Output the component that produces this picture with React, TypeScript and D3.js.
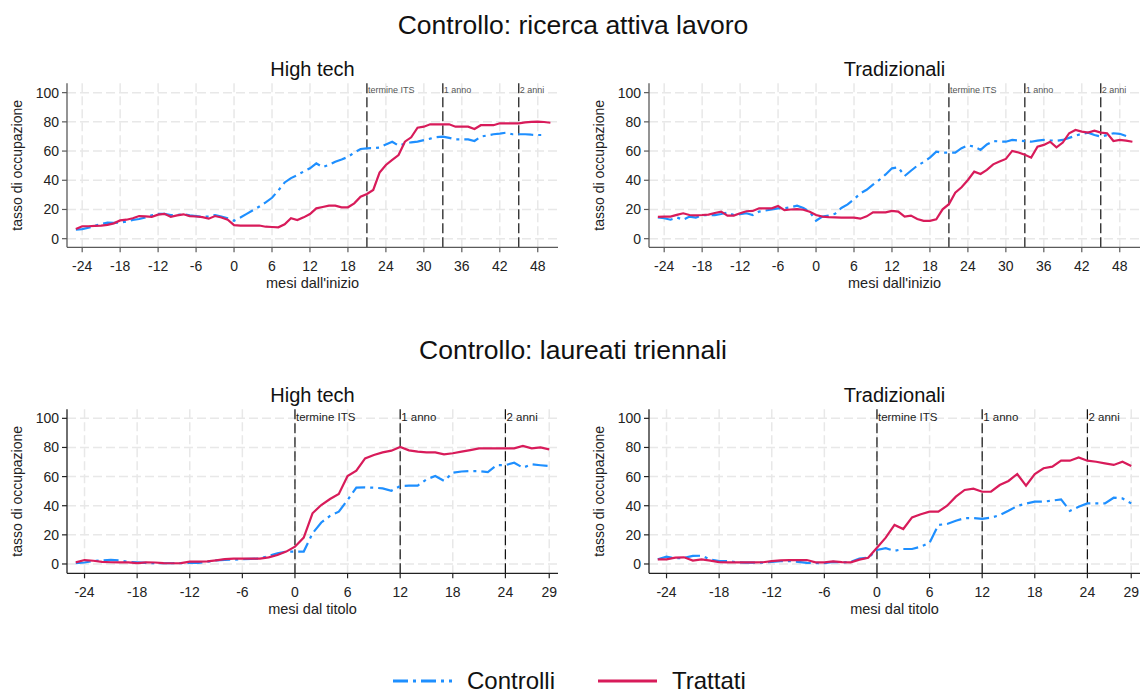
import React from 'react'
import * as d3 from 'd3'

// months since start (top row) and since graduation (bottom row)
const monthsTop = d3.range(-25, 51)
const monthsBottom = d3.range(-25, 30)

// Controllo: ricerca attiva lavoro - High tech
const rcHighTrattati = [
  6.6, 8.5, 8.5, 8.8, 8.9, 9.5, 10.5, 12.5, 13, 14, 15.5, 15.3, 15, 16.5, 17, 15, 16, 16.7, 15.5, 15.2, 14.8, 13.7, 15.5, 14.5, 13, 9.3,
  9, 9, 9, 9, 8.2, 8, 7.8, 9.8, 14, 12.8,
  14.6, 16.9, 20.8, 21.7, 22.6, 22.6, 21.5, 21.5, 24.2, 28.8,
  30.6, 33.4, 45.2, 50.5, 53.9, 57.3, 66.4, 69.4, 76, 76.7,
  78.3, 78.3, 78.3, 78.3, 76.7, 76.7, 76.7, 75.1, 77.7, 77.7,
  77.7, 79, 79, 79, 79, 79.7, 80, 80.1, 79.9, 79.4,
]
const rcHighControlli = [
  6.2, 6.6, 7.5, 8.8, 10, 11, 10.8, 11, 11.8, 12.8, 13.5, 14.5, 16, 17, 17, 16.2, 16.3, 16.7, 16, 15.5, 15, 15.2, 16.2, 15.2, 13.9, 12.3,
  14.5, 17, 19.5, 22, 24.9, 28, 33, 38.5, 41.5, 43.6,
  46, 48.2, 51.6, 49, 50.5, 52.7, 54.2, 56, 59, 61.4,
  61.9, 62, 62.4, 64.5, 66.4, 63.7, 65, 66, 66.5, 67.5,
  68.5, 69.5, 69.9, 69, 68, 68, 68, 66.9, 69.9, 70.7,
  71.5, 72, 72.6, 71.5, 71.5, 71.5, 71.2, 71, 71,
]

// Controllo: ricerca attiva lavoro - Tradizionali
const rcTradTrattati = [
  15, 15.1, 15.1, 16.3, 17.4, 16.2, 16, 16.2, 16.5, 17.6, 18.5, 15.8, 15.8, 17.4, 18.8, 19, 20.8, 20.8, 20.8, 22.4, 19.6, 20, 20.3, 19.8, 18.5, 16.2,
  15.1, 14.8, 14.6, 14.4, 14.4, 14.4, 13.7, 15.3, 18, 18,
  18, 19, 18.5, 15.1, 15.8, 13.5, 12.2, 12.2, 13.3, 20.1,
  23.6, 31.5, 35.2, 40.2, 45.9, 44.3, 47.1, 50.9, 52.8, 54.6,
  60.1, 59, 57.5, 55.5, 63, 64.2, 66.4, 62.6, 65.8, 72.2,
  74.4, 73.3, 72.6, 74, 72.6, 72.2, 66.9, 67.6, 67.1, 66.4,
]
const rcTradControlli = [
  14.5, 14, 13, 14.5, 13, 15.1, 14.4, 16.2, 16.2, 16.2, 16.9, 17.9, 16.2, 16.8, 17.4, 16.2, 18.5, 19.3, 20, 20.8, 20.8, 21.5, 22.6, 21, 18.5, 12.3,
  15.1, 15.8, 17, 21, 23.5, 27, 31, 33.5, 37, 40.2,
  44, 48.2, 48.9, 42.9, 46.5, 50, 52.5, 55.5, 59.6, 58.9,
  58.9, 58.9, 62, 64, 63, 60.8, 64.5, 66.9, 66.6, 66.4,
  67.6, 67.2, 66.8, 66.4, 67.2, 67.6, 67.3, 67.1, 67.6, 69,
  70.5, 71.8, 72.6, 71, 69.9, 71, 72.2, 71.8, 70.3,
]

// Controllo: laureati triennali - High tech
const ltHighTrattati = [
  1.1, 2.7, 2.2, 1.5, 1.2, 1.1, 1.1, 0.6, 1.1, 1, 0.6, 0.5, 0.6, 1.6, 1.6, 1.8, 2.5, 3.3, 3.7, 3.7, 3.7, 3.7, 4.5, 6.2, 8.5, 11.9,
  18.1, 34.8, 40.5, 44.6, 48, 60.4, 64.1, 72.5, 74.8, 76.6,
  77.8, 80.3, 78, 77.1, 76.6, 76.6, 75.3, 76, 77.1, 78.2,
  79.4, 79.4, 79.4, 79.4, 79.4, 81, 79.4, 80, 78.7,
]
const ltHighControlli = [
  0.5, 1, 2, 2.5, 2.8, 2.5, 1.5, 1.1, 0.8, 0.5, 0.5, 0.5, 0.6, 0.9, 0.8, 1.5, 2.5, 2.8, 3, 3.3, 3.5, 3.7, 5.5, 7.3, 8.5, 8.5,
  8.5, 21, 28.5, 33, 35.9, 43.9, 52.4, 52.6, 52.4, 51.9,
  50.3, 53.5, 53.8, 53.8, 58.1, 60.4, 57, 62.7, 63.5, 63.8,
  63.8, 63.1, 67.9, 67.9, 69.5, 66.1, 68.4, 67.8, 67.3,
]

// Controllo: laureati triennali - Tradizionali
const ltTradTrattati = [
  3.2, 3.2, 4.4, 4.6, 2.3, 3.2, 2.3, 1.3, 1.1, 1.1, 1.1, 1.1, 1.2, 2, 2.5, 2.7, 2.7, 2.7, 1.1, 1.1, 1.8, 1.3, 1.1, 3, 4.3, 11.2,
  18.1, 26.8, 24, 32, 34.1, 35.9, 35.9, 40, 46.2, 50.8,
  51.7, 49.6, 49.6, 54.2, 57, 61.8, 53.8, 61.8, 65.7, 66.8,
  70.9, 70.9, 73.2, 70.9, 70.2, 69.1, 68, 70.2, 67.3,
]
const ltTradControlli = [
  3.2, 5, 3.9, 4.2, 5.5, 5.7, 3, 2, 2, 1.2, 0.9, 0.9, 0.9, 1.5, 2, 2, 1.5, 0.8, 0.5, 0.5, 1.5, 1, 1.5, 3.7, 4.3, 9.6,
  10.8, 9, 10.3, 10.3, 11.9, 14.6, 26.8, 27.5, 29.7, 31.5,
  31.5, 31, 31.8, 33.5, 36.5, 39.8, 41.5, 42.8, 42.8, 43.5,
  44.4, 36.4, 39.3, 41.6, 41.6, 41.6, 45.5, 45, 41.6,
]

const yTicks = [0, 20, 40, 60, 80, 100]
const xTicksTop = [-24, -18, -12, -6, 0, 6, 12, 18, 24, 30, 36, 42, 48]
const xTicksBottom = [-24, -18, -12, -6, 0, 6, 12, 18, 24, 29]
const refTop = [21, 33, 45]
const refBottom = [0, 12, 24]
const refLabels = ['termine ITS', '1 anno', '2 anni']

const BLUE = '#1e8fff'
const RED = '#d81b5a'
const FONT = '"Liberation Sans", Arial, sans-serif'

type PanelProps = {
  title: string
  left: number
  right: number
  top: number
  bottom: number
  xDomain: [number, number]
  yDomain: [number, number]
  xTicks: number[]
  refs: number[]
  months: number[]
  trattati: number[]
  controlli: number[]
  xTitle: string
  axisColor: string
  refFont: number
  refColor: string
}

const Panel = (p: PanelProps) => {
  const x = d3.scaleLinear().domain(p.xDomain).range([p.left, p.right])
  const y = d3.scaleLinear().domain(p.yDomain).range([p.bottom, p.top])
  const line = d3.line<number>()
    .x((d, i) => x(p.months[i]))
    .y((d) => y(d))
  const midX = (p.left + p.right) / 2
  const midY = (p.top + p.bottom) / 2

  return (
    <g>
      {/* grid */}
      {yTicks.map((t) => (
        <line key={'gy' + t} x1={p.left} x2={p.right} y1={y(t)} y2={y(t)}
          stroke="#e8e8e8" strokeWidth={1.5} strokeDasharray="9,4" />
      ))}
      {p.xTicks.map((t) => (
        <line key={'gx' + t} x1={x(t)} x2={x(t)} y1={p.top} y2={p.bottom}
          stroke="#e8e8e8" strokeWidth={1.5} strokeDasharray="9,4" />
      ))}

      {/* reference lines */}
      {p.refs.map((r, i) => (
        <g key={'ref' + r}>
          <line x1={x(r)} x2={x(r)} y1={p.top} y2={p.bottom}
            stroke="#111" strokeWidth={1.2} strokeDasharray="10,4" />
          <text x={x(r) + 1} y={p.top + p.refFont * 1.05} fontSize={p.refFont}
            fill={p.refColor} fontFamily={FONT}>{refLabels[i]}</text>
        </g>
      ))}

      {/* series */}
      <path d={line(p.controlli) || ''} fill="none" stroke={BLUE} strokeWidth={2.2}
        strokeDasharray="15,5,3,5" />
      <path d={line(p.trattati) || ''} fill="none" stroke={RED} strokeWidth={2.2} />

      {/* axes */}
      <line x1={p.left} x2={p.left} y1={p.top} y2={p.bottom} stroke={p.axisColor} strokeWidth={1.3} />
      <line x1={p.left} x2={p.right} y1={p.bottom} y2={p.bottom} stroke={p.axisColor} strokeWidth={1.3} />
      {yTicks.map((t) => (
        <g key={'yt' + t}>
          <line x1={p.left - 5} x2={p.left} y1={y(t)} y2={y(t)} stroke={p.axisColor} strokeWidth={1.2} />
          <text x={p.left - 8} y={y(t) + 5} textAnchor="end" fontSize={14} fill="#222" fontFamily={FONT}>{t}</text>
        </g>
      ))}
      {p.xTicks.map((t) => (
        <g key={'xt' + t}>
          <line x1={x(t)} x2={x(t)} y1={p.bottom} y2={p.bottom + 5} stroke={p.axisColor} strokeWidth={1.2} />
          <text x={x(t)} y={p.bottom + 23.5} textAnchor="middle" fontSize={14} fill="#222" fontFamily={FONT}>{t}</text>
        </g>
      ))}

      {/* titles */}
      <text x={midX} y={p.top - 7} textAnchor="middle" fontSize={20} fill="#111" fontFamily={FONT}>{p.title}</text>
      <text x={midX} y={p.bottom + 41} textAnchor="middle" fontSize={14.5} fill="#222" fontFamily={FONT}>{p.xTitle}</text>
      <text transform={`translate(${p.left - 45},${midY}) rotate(-90)`} textAnchor="middle"
        fontSize={14} fill="#222" fontFamily={FONT}>tasso di occupazione</text>
    </g>
  )
}

const App = () => {
  const width = 1142
  const height = 693
  return (
    <div style={{ position: 'absolute', left: 0, top: 0 }}>
      <svg width={width} height={height} style={{ display: 'block', background: '#fff' }}>
        <text x={573} y={34} textAnchor="middle" fontSize={26.5} fill="#111" fontFamily={FONT}>
          Controllo: ricerca attiva lavoro
        </text>
        <text x={573} y={359} textAnchor="middle" fontSize={26.5} fill="#111" fontFamily={FONT}>
          Controllo: laureati triennali
        </text>

        <Panel title="High tech" left={67} right={558} top={83.3} bottom={247.3}
          xDomain={[-26.4, 51.2]} yDomain={[-5.9, 106.4]} xTicks={xTicksTop} refs={refTop}
          months={monthsTop} trattati={rcHighTrattati} controlli={rcHighControlli}
          xTitle="mesi dall'inizio" axisColor="#5a5a5a" refFont={9} refColor="#555" />
        <Panel title="Tradizionali" left={649} right={1140} top={83.3} bottom={247.3}
          xDomain={[-26.4, 51.2]} yDomain={[-5.9, 106.4]} xTicks={xTicksTop} refs={refTop}
          months={monthsTop} trattati={rcTradTrattati} controlli={rcTradControlli}
          xTitle="mesi dall'inizio" axisColor="#5a5a5a" refFont={9} refColor="#555" />
        <Panel title="High tech" left={67} right={558} top={409.3} bottom={573.3}
          xDomain={[-26, 30]} yDomain={[-6.4, 106.2]} xTicks={xTicksBottom} refs={refBottom}
          months={monthsBottom} trattati={ltHighTrattati} controlli={ltHighControlli}
          xTitle="mesi dal titolo" axisColor="#222" refFont={11.5} refColor="#222" />
        <Panel title="Tradizionali" left={649} right={1140} top={409.3} bottom={573.3}
          xDomain={[-26, 30]} yDomain={[-6.4, 106.2]} xTicks={xTicksBottom} refs={refBottom}
          months={monthsBottom} trattati={ltTradTrattati} controlli={ltTradControlli}
          xTitle="mesi dal titolo" axisColor="#222" refFont={11.5} refColor="#222" />

        {/* legend */}
        <line x1={393} x2={452} y1={681} y2={681} stroke={BLUE} strokeWidth={3} strokeDasharray="15,5,3,5" />
        <text x={467} y={689} fontSize={24} fill="#111" fontFamily={FONT}>Controlli</text>
        <line x1={598} x2={657} y1={681} y2={681} stroke={RED} strokeWidth={3} />
        <text x={672} y={689} fontSize={24} fill="#111" fontFamily={FONT}>Trattati</text>
      </svg>
    </div>
  )
}

export default App
